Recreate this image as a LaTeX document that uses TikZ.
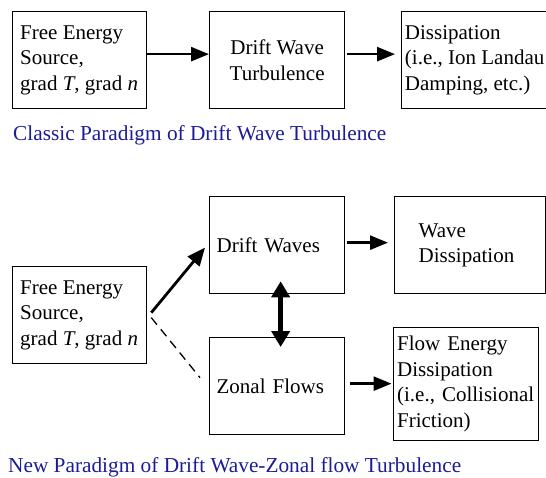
\documentclass[tikz,border=0pt]{standalone}
\usepackage{fontspec}
\setmainfont{Liberation Serif}
\usetikzlibrary{arrows.meta,positioning}

\definecolor{capblue}{RGB}{28,28,150}

\tikzset{
  box/.style={draw, line width=1.3pt, minimum height=97pt, inner ysep=0pt,
              font=\fontsize{21}{25.5}\selectfont},
  flow/.style={line width=2.6pt, -{Triangle[length=18pt,width=14pt]}},
  caption/.style={anchor=base west, inner sep=0pt, text=capblue,
                  font=\fontsize{21.3}{25.5}\selectfont}
}

\begin{document}
\begin{tikzpicture}[x=1pt,y=-1pt]

\useasboundingbox (0,0) rectangle (546,478);

% ========================
% CLASSIC PARADIGM (top row)
% ========================

\node[box, anchor=north west, minimum width=134pt, inner xsep=2pt, align=left]
  (src1) at (11.5,11) {Free Energy\\Source,\\grad \textit{T}, grad \textit{n}};

\node[box, anchor=north west, minimum width=135pt, align=center]
  (dwt) at (209,11) {Drift Wave\\Turbulence};

% right box: its right side sits just past the page edge
\node[box, anchor=north west, minimum width=146pt, inner xsep=2pt, align=left]
  (dis1) at (401,11) {Dissipation\\(i.e., Ion Landau\\Damping, etc.)};

\draw[flow] ([yshift=6pt]src1.east) -- ([yshift=6pt]dwt.west);
\draw[flow, shorten <=2pt, shorten >=6pt] ([yshift=6pt]dwt.east) -- ([yshift=6pt]dis1.west);

\node[caption] (cap1) at (13,141) {Classic Paradigm of Drift Wave Turbulence};


% ========================
% NEW PARADIGM (bottom)
% ========================

\node[box, anchor=north west, minimum width=134pt, inner xsep=2pt, align=left]
  (src2) at (11.5,266) {Free Energy\\Source,\\grad \textit{T}, grad \textit{n}};

\node[box, anchor=north west, inner xsep=7pt, text width=121pt, align=left]
  (dw) at (209,196) {Drift Waves};

\node[box, anchor=north west, inner xsep=7pt, text width=121pt, align=left]
  (zf) at (209,337) {Zonal Flows};

\node[box, anchor=north west, inner xsep=24pt, text width=103pt, align=left]
  (wd) at (394,196) {Wave\\Dissipation};

\node[box, anchor=north west, minimum height=113pt, inner xsep=3.5pt, text width=138pt, align=left]
  (fed) at (393,327) {Flow Energy\\Dissipation\\(i.e., Collisional\\Friction)};

% source feeds the waves, dashed path to the flows
\draw[line width=2.8pt, -{Triangle[length=18pt,width=15pt]}]
  ([xshift=4.5pt,yshift=2.5pt]src2.east) -- ([xshift=-4pt,yshift=-2.5pt]dw.west);
\draw[line width=1.3pt, dash pattern=on 9pt off 6pt]
  ([xshift=4.5pt,yshift=-2.5pt]src2.east) -- ([xshift=-9pt,yshift=8.5pt]zf.west);

% coupling between waves and flows
\draw[line width=4.8pt, {Triangle[length=16pt,width=18pt]}-{Triangle[length=16pt,width=18pt]}]
  ([xshift=3.5pt,yshift=13pt]dw.south) -- ([xshift=3.5pt,yshift=-10pt]zf.north);

\draw[flow, shorten <=2pt, shorten >=6pt] ([yshift=2.5pt]dw.east) -- ([yshift=2.5pt]dw.east -| wd.west);
\draw[flow, shorten <=5pt, shorten >=1.5pt] ([yshift=2.5pt]zf.east) -- ([yshift=2.5pt]zf.east -| fed.west);

\node[caption] (cap2) at (8,472) {New Paradigm of Drift Wave-Zonal flow Turbulence};

\end{tikzpicture}
\end{document}
